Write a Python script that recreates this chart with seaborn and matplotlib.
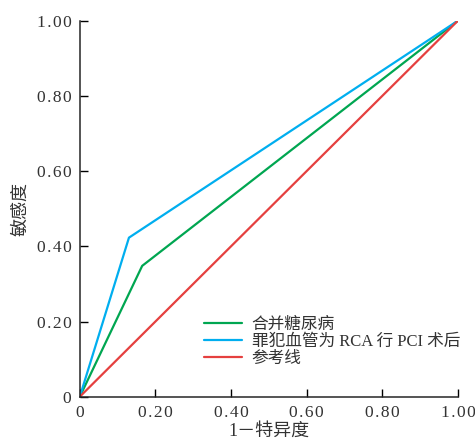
import pandas as pd
import numpy as np
from matplotlib import pyplot as plt
import seaborn as sns

sns.set_style('ticks')
plt.rcParams['font.family'] = ['Liberation Serif', 'Noto Sans CJK SC']
plt.rcParams['axes.unicode_minus'] = False

names = ['合并糖尿病', '罪犯血管为 RCA 行 PCI 术后', '参考线']
fpr_dm = [0, 0.165, 1]
tpr_dm = [0, 0.348, 1]
fpr_rca = [0, 0.13, 1]
tpr_rca = [0, 0.423, 1]
fpr_ref = [0, 1]
tpr_ref = [0, 1]
colors = ['#00A651', '#00AEEF', '#E5403F']
ticks = [0, 0.2, 0.4, 0.6, 0.8, 1.0]
tick_labels = ['0', '0.20', '0.40', '0.60', '0.80', '1.00']
# 字间距稍宽一点
tick_labels = ['\u200a'.join(t) for t in tick_labels]

df = pd.concat([
    pd.DataFrame({'x': fpr_dm, 'y': tpr_dm, 'curve': names[0]}),
    pd.DataFrame({'x': fpr_rca, 'y': tpr_rca, 'curve': names[1]}),
    pd.DataFrame({'x': fpr_ref, 'y': tpr_ref, 'curve': names[2]}),
])

fig = plt.figure(figsize=(4.75, 4.45), dpi=100)
ax = fig.add_axes([0.168, 0.1085, 0.796, 0.845])
sns.lineplot(data=df, x='x', y='y', hue='curve', palette=colors, sort=False,
             estimator=None, linewidth=1.6, ax=ax)

ax.set_xlim(0, 1)
ax.set_ylim(0, 1)
ax.set_xticks(ticks)
ax.set_xticklabels(tick_labels)
ax.set_yticks(ticks)
ax.set_yticklabels(tick_labels)
ax.tick_params(direction='in', length=6, width=1, labelsize=12.5, colors='black',
               labelcolor='#333333', pad=6)
sns.despine(ax=ax)
for s in ['left', 'bottom']:
    ax.spines[s].set_linewidth(1.1)
ax.set_xlabel('1－特异度', fontsize=13, color='#333333', labelpad=1)
ax.set_ylabel('敏感度', fontsize=13, color='#333333', labelpad=5)

leg = ax.legend(loc='lower right', bbox_to_anchor=(1.045, 0.04), frameon=False,
                fontsize=12, handlelength=2.3, handletextpad=0.55,
                labelspacing=0.05, title=None)
for t in leg.get_texts():
    t.set_color('#333333')

plt.savefig('out.png', dpi=100)
